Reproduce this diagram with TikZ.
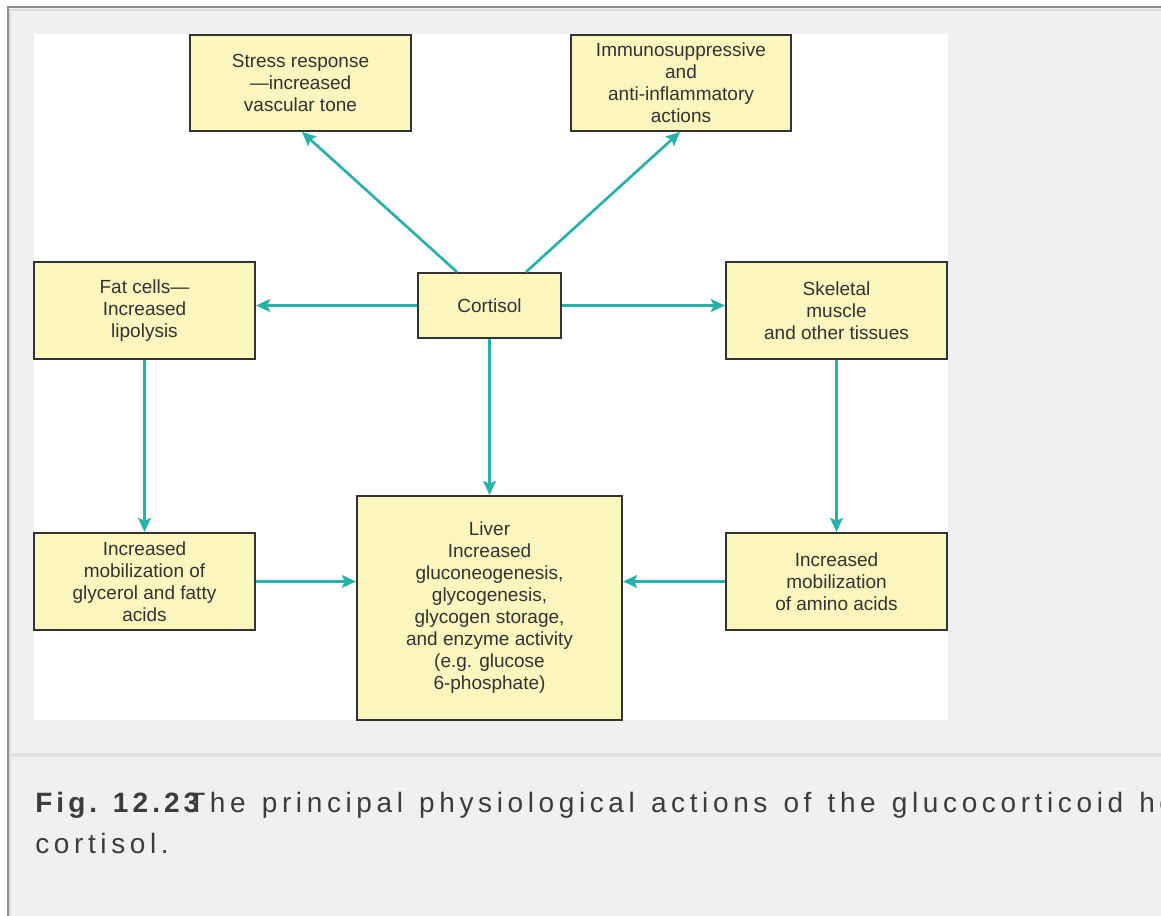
\documentclass[tikz,border=0pt]{standalone}
\usepackage{fontspec}
\setmainfont{Liberation Sans}
\newfontfamily\capfont[LetterSpace=16.5,WordSpace=1.3]{Liberation Sans}
\newfontfamily\capboldfont[LetterSpace=14.5]{Liberation Sans Bold}
\usetikzlibrary{arrows.meta,calc}
\definecolor{boxfill}{RGB}{251,245,190}
\definecolor{boxline}{RGB}{51,51,51}
\definecolor{flowteal}{RGB}{38,178,170}
\definecolor{pagegray}{RGB}{240,240,240}
\definecolor{framegray}{RGB}{140,140,140}
\definecolor{capgray}{RGB}{60,60,60}
\tikzset{
  box/.style={draw=boxline, line width=1.5pt, fill=boxfill, align=center, inner sep=0pt,
    font=\fontsize{14.25}{16.5}\selectfont, text=black!80},
  sidebox/.style={box, minimum width=165.75pt, minimum height=72.75pt},
  flow/.style={flowteal, line width=2pt, -{Stealth[length=10.5pt,width=9.5pt,inset=2pt]}},
  captext/.style={anchor=base west, inner sep=0pt, text=capgray, font=\capfont\fontsize{21}{30}\selectfont}
}
\begin{document}
\begin{tikzpicture}[x=0.75pt,y=-0.75pt]
    \useasboundingbox (0,0) rectangle (1161,916);
    \fill[white] (0,0) rectangle (1161,916);
    \fill[pagegray] (7,7) rectangle (1161,916);
    \fill[white] (34,34) rectangle (948,720);
    \draw[black!14, line width=2pt] (10,916) -- (10,10) -- (1161,10);
    \draw[framegray, line width=1.5pt] (7.5,916) -- (7.5,7.5) -- (1161,7.5);
    \draw[black!12, line width=3pt] (9,755) -- (1161,755);

    \node (stress) at (300.5,83) [box, minimum width=165.75pt, minimum height=72pt] {Stress response\\---increased\\vascular tone};
    \node (immuno) at (681,83) [box, minimum width=165pt, minimum height=72pt] {Immunosuppressive\\and\\anti-inflammatory\\actions};
    \node (fat) at (144.5,310.5) [sidebox] {Fat cells---\\Increased\\lipolysis};
    \node (cortisol) at (489.5,305.5) [box, minimum width=107.25pt, minimum height=48.75pt] {Cortisol};
    \node (skeletal) at (836.5,310.5) [sidebox] {Skeletal\\muscle\\and other tissues};
    \node (glycerol) at (144.5,581.5) [sidebox] {Increased\\mobilization of\\glycerol and fatty\\acids};
    \node (liver) at (489.5,608) [box, minimum width=198.75pt, minimum height=168pt] {Liver\\Increased\\gluconeogenesis,\\glycogenesis,\\glycogen storage,\\and enzyme activity\\(e.g. glucose\\6-phosphate)};
    \node (amino) at (836.5,581.5) [sidebox] {Increased\\mobilization\\of amino acids};

    \draw[flow] ($(cortisol.north)+(-32.5,0)$) -- ($(stress.south)+(1.5,0)$);
    \draw[flow] ($(cortisol.north)+(36.5,0)$) -- ($(immuno.south)+(-1,0)$);
    \draw[flow] (cortisol.west) -- (cortisol.west -| fat.east);
    \draw[flow] (cortisol.east) -- (cortisol.east -| skeletal.west);
    \draw[flow] (cortisol.south) -- (liver.north);
    \draw[flow] (fat.south) -- (glycerol.north);
    \draw[flow] (skeletal.south) -- (amino.north);
    \draw[flow] (glycerol.east) -- (glycerol.east -| liver.west);
    \draw[flow] (amino.west) -- (amino.west -| liver.east);

    \begin{scope}
        \clip (0,0) rectangle (1161,916);
        \node (fignum) at (35,812) [captext, font=\capboldfont\fontsize{21}{30}\selectfont] {Fig. 12.23};
        \node (figtext) at (188,812) [captext] {The principal physiological actions of the glucocorticoid ho};
        \node (figtail) at (35,853) [captext] {cortisol.};
    \end{scope}
\end{tikzpicture}
\end{document}
